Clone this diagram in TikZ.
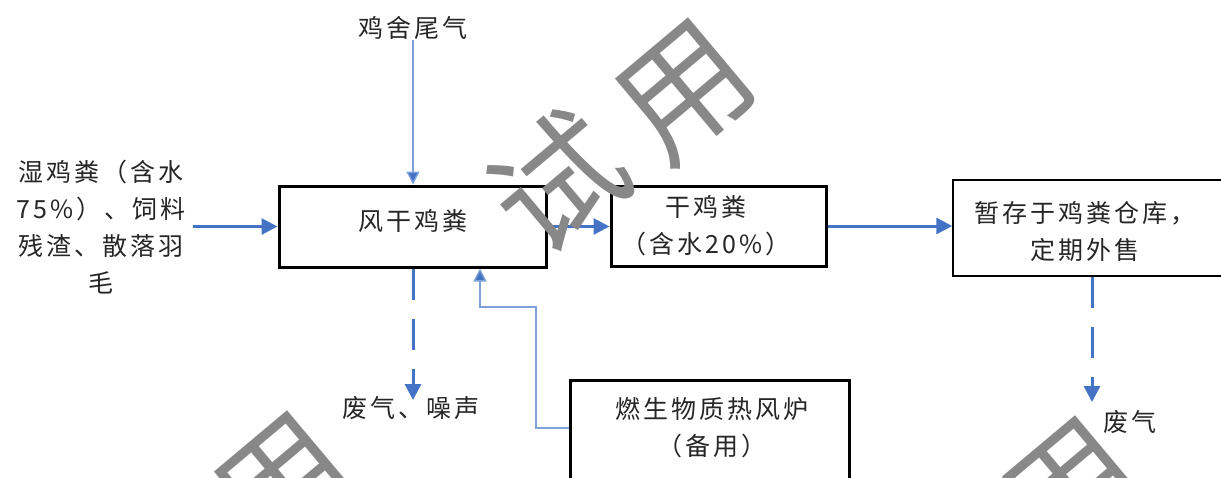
\documentclass[tikz,border=0pt]{standalone}
\usepackage{fontspec}
\setmainfont{Noto Sans CJK SC}[LetterSpace=12]
\newfontfamily\wmfont{Noto Sans CJK SC}
\usetikzlibrary{arrows.meta}
\definecolor{lb}{HTML}{4472C4}
\definecolor{lbthin}{HTML}{7EA1DA}
\definecolor{tx}{HTML}{262626}
\definecolor{wmgray}{HTML}{888888}
\begin{document}
\begin{tikzpicture}[x=1pt,y=-1pt,
  txt/.style={font=\fontsize{25}{37}\selectfont, text=tx, align=center, inner sep=0pt},
  box/.style={draw=black, line width=3pt, fill=white, inner sep=0pt},
  flow/.style={draw=lb, line width=3pt, -{Triangle[width=16pt,length=16pt]}},
  thinflow/.style={draw=lbthin, line width=1.4pt, -{Triangle[width=13pt,length=13pt,fill=lb]}},
  dflow/.style={flow, dash pattern=on 31pt off 19pt},
  wm/.style={font=\wmfont\fontsize{130}{130}\selectfont, text=wmgray, rotate=40, inner sep=0pt}]
\fill[white] (0,0) rectangle (1221,477);
\useasboundingbox (0,0) rectangle (1221,477);

% boxes
\node[box, minimum width=267pt, minimum height=81pt] (b1) at (412.5,226.5) {};
\node[box, minimum width=215pt, minimum height=80pt] (b2) at (718.5,226) {};
\node[box, line width=1.5pt, minimum width=278pt, minimum height=96pt] (b3) at (1092,228) {};
\node[box, minimum width=279pt, minimum height=110pt] (b4) at (709.5,435) {};

% texts
\node[txt] (in) at (101,227) {湿鸡粪（含水\\75\%）、饲料\\残渣、散落羽\\毛};
\node[txt] (jq) at (413,28) {鸡舍尾气};
\node[txt] (t1) at (413,221) {风干鸡粪};
\node[txt] (t2) at (706,226) {干鸡粪\\（含水20\%）};
\node[txt] (t3) at (1085,231) {暂存于鸡粪仓库，\\定期外售};
\node[txt] (t4) at (712,428) {燃生物质热风炉\\（备用）};
\node[txt] (fq1) at (411,408) {废气、噪声};
\node[txt] (fq2) at (1130,422) {废气};

\coordinate (tip1) at (413,400);
\coordinate (tip2) at (1092,402);
\coordinate (jqs) at (413,40);

% connectors
\draw[flow] ([xshift=7pt]in.east |- b1.west) -- (b1.west);
\draw[flow] (b1.east) -- (b1.east -| b2.west);
\draw[flow] (b2.east) -- (b2.east -| b3.west);
\draw[thinflow] (jqs) -- (jqs |- b1.north);
\draw[dflow] (b1.south -| tip1) -- (tip1);
\draw[dflow] (b3.south) -- (tip2);
\draw[thinflow] ([yshift=7pt]b4.west) -| (536,307) -| ([xshift=67.5pt]b1.south);

% watermarks
\node[wm] (w1) at (558,182) {试};
\node[wm] (w2) at (686,93) {用};
\node[wm] (w3) at (285,486) {用};
\node[wm] (w4) at (1073,491) {用};
\end{tikzpicture}
\end{document}
